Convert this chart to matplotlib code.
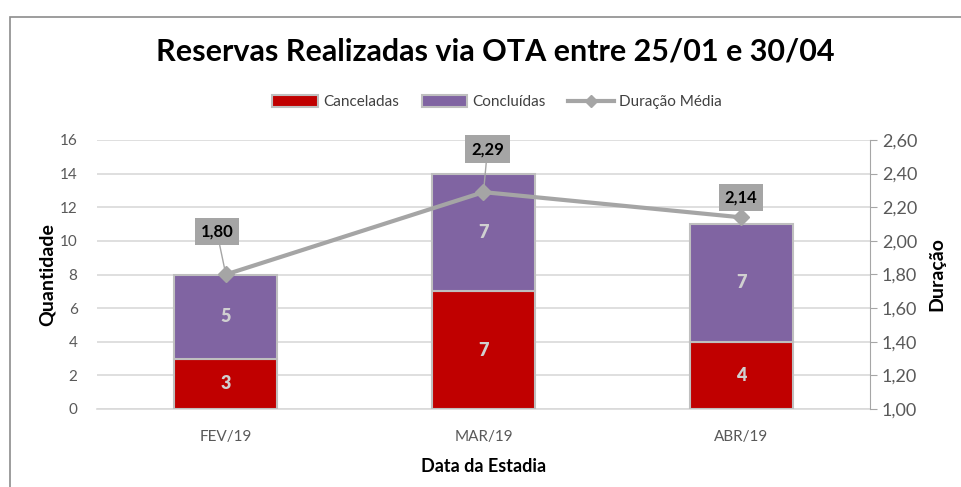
import matplotlib.pyplot as plt
from matplotlib.patches import Rectangle
from matplotlib.lines import Line2D
from matplotlib.patches import Patch
import numpy as np

plt.rcParams['font.family'] = ['Lato', 'DejaVu Sans']

meses = ['FEV/19', 'MAR/19', 'ABR/19']
canceladas = [3, 7, 4]
concluidas = [5, 7, 7]
duracao = [1.80, 2.29, 2.14]

cor_canc = '#C00000'
cor_conc = '#8064A2'
cor_linha = '#A5A5A5'
cinza_txt = '#595959'

fig = plt.figure(figsize=(9.62, 4.87), dpi=100)
fig.patches.append(Rectangle((10/962, -0.1), 1.2, 1 - 17/487 + 0.1, transform=fig.transFigure,
                             fill=False, edgecolor='#8C8C8C', lw=1.2))

ax = fig.add_axes([97/962, 1 - 409/487, (870 - 97)/962, (409 - 140)/487])
x = np.arange(len(meses))
w = 0.4
b1 = ax.bar(x, canceladas, w, color=cor_canc, edgecolor='#BFBFBF', lw=1.5, zorder=3)
b2 = ax.bar(x, concluidas, w, bottom=canceladas, color=cor_conc, edgecolor='#BFBFBF', lw=1.5, zorder=3)
for i in range(len(meses)):
    ax.text(x[i], canceladas[i] / 2, str(canceladas[i]), ha='center', va='center',
            color='#D0D0D0', fontsize=13, fontweight='heavy', zorder=4)
    ax.text(x[i], canceladas[i] + concluidas[i] / 2, str(concluidas[i]), ha='center', va='center',
            color='#D0D0D0', fontsize=13, fontweight='heavy', zorder=4)

ax.set_xlim(-0.5, 2.5)
ax.set_ylim(0, 16)
ax.set_yticks(range(0, 17, 2))
ax.yaxis.grid(True, color='#D9D9D9', lw=1.2)
ax.set_axisbelow(True)
for s in ['top', 'left', 'right']:
    ax.spines[s].set_visible(False)
ax.spines['bottom'].set_color('#D9D9D9')
ax.spines['bottom'].set_linewidth(1.2)
ax.tick_params(axis='both', length=0, colors=cinza_txt, labelsize=11)
ax.tick_params(axis='x', pad=15)
ax.tick_params(axis='y', pad=14)
ax.set_xticks(x)
ax.set_xticklabels(meses)
ax.set_ylabel('Quantidade', fontsize=14, fontweight='bold', labelpad=3)
ax.set_xlabel('Data da Estadia', fontsize=13, fontweight='bold', labelpad=10)

ax2 = ax.twinx()
ax2.plot(x, duracao, color=cor_linha, lw=3, marker='D', ms=8, zorder=5)
ax2.set_ylim(1.0, 2.6)
yt = np.arange(1.0, 2.61, 0.2)
ax2.set_yticks(yt)
ax2.set_yticklabels([('%.2f' % v).replace('.', ',') for v in yt])
for s in ['top', 'left', 'bottom']:
    ax2.spines[s].set_visible(False)
ax2.spines['right'].set_color('#A6A6A6')
ax2.tick_params(axis='y', length=5, color='#A6A6A6', colors=cinza_txt, labelsize=13)
ax2.set_ylabel('Duração', fontsize=14, fontweight='bold', labelpad=8)

offs = [(-9, 43), (4, 43), (0, 20)]
for i in range(len(meses)):
    ax2.annotate(('%.2f' % duracao[i]).replace('.', ','), (x[i], duracao[i]),
                 xytext=offs[i], textcoords='offset pixels', ha='center', va='center',
                 fontsize=12, fontweight='bold', color='black',
                 bbox=dict(boxstyle='square,pad=0.35', fc=cor_linha, ec='none'),
                 arrowprops=dict(arrowstyle='-', color=cor_linha, lw=1, shrinkA=0, shrinkB=4),
                 zorder=6)

fig.text(495/962, 1 - 52/487, 'Reservas Realizadas via OTA entre 25/01 e 30/04', ha='center', va='center',
         fontsize=22, fontweight='bold', color='black')

handles = [Patch(facecolor=cor_canc, edgecolor='#BFBFBF', lw=1.5, label='Canceladas'),
           Patch(facecolor=cor_conc, edgecolor='#BFBFBF', lw=1.5, label='Concluídas'),
           Line2D([], [], color=cor_linha, lw=3, marker='D', ms=6, label='Duração Média')]
fig.legend(handles=handles, loc='center', bbox_to_anchor=(497/962, 1 - 102/487), ncol=3, frameon=False,
           fontsize=11, labelcolor='#404040', handlelength=3, handleheight=0.8, columnspacing=1.5,
           handletextpad=0.3)

fig.savefig('out.png', dpi=100)
